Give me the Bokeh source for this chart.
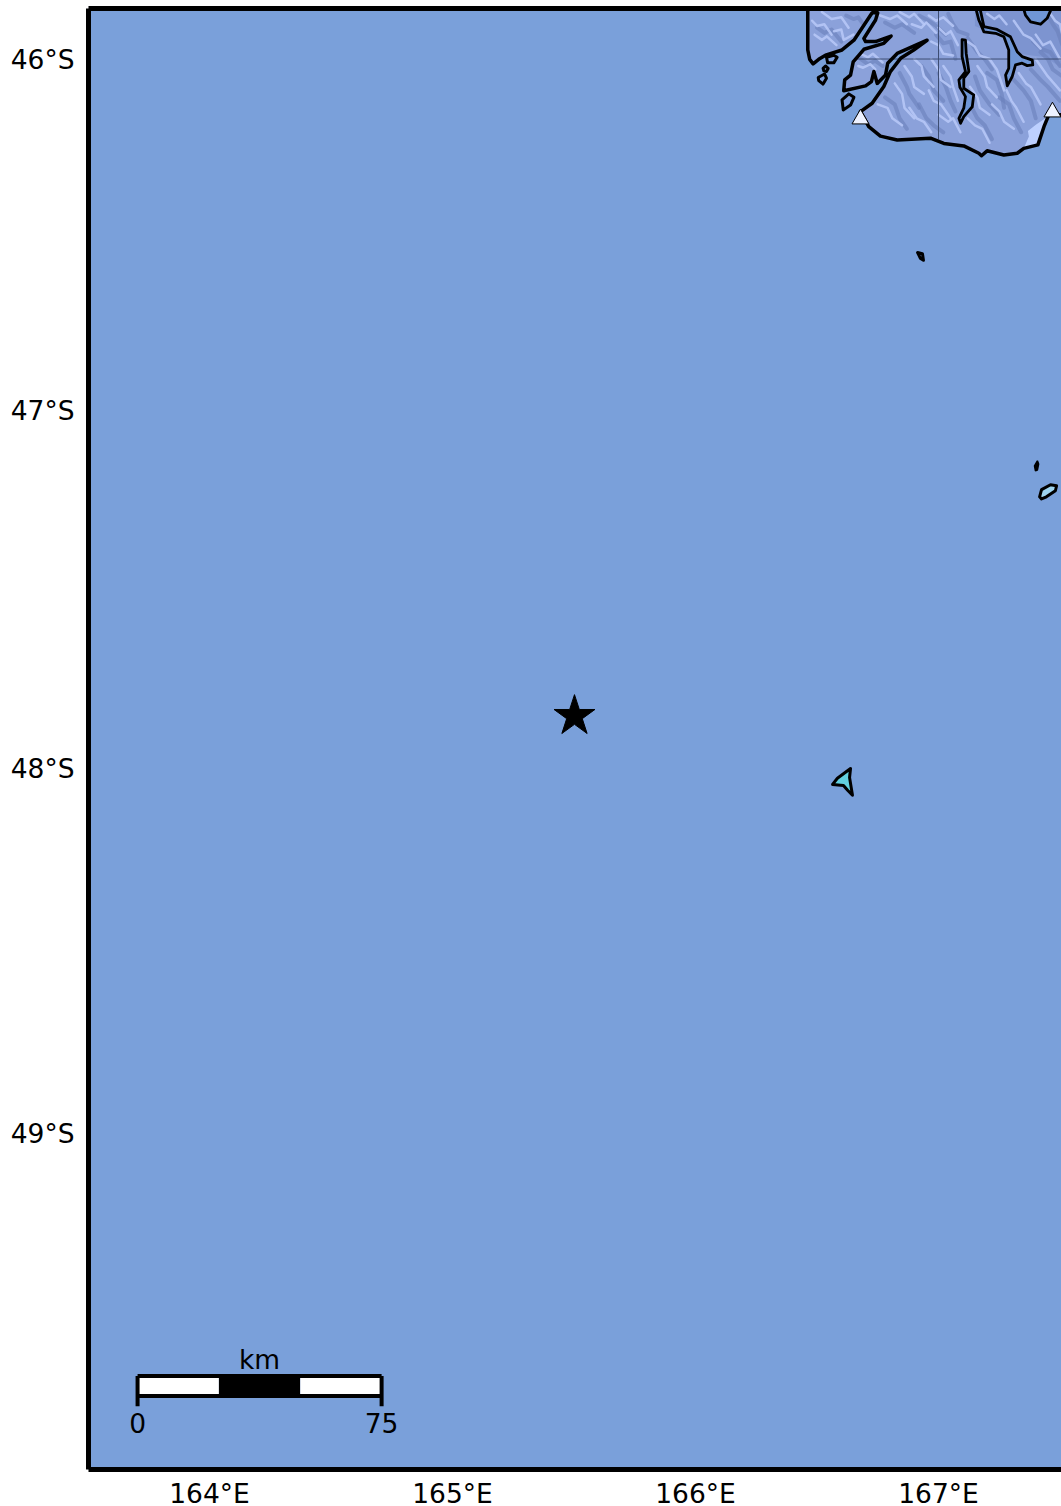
import math
from bokeh.plotting import figure
from bokeh.models import Range1d, FixedTicker, LinearAxis
from bokeh.core.properties import value
from bokeh.embed import file_html
from bokeh.resources import INLINE

# ---- data (degrees east, degrees south) ----
lon_ticks = [164, 165, 166, 167]
lat_ticks = [46, 47, 48, 49]

coast_lon = [166.462,166.462,166.470,166.484,166.507,166.535,166.603,166.652,166.693,166.727,166.750,166.741,166.693,166.700,166.741,166.805,166.775,166.693,166.649,166.638,166.614,166.610,166.700,166.724,166.734,166.748,166.782,166.791,166.830,166.953,166.898,166.844,166.802,166.775,166.727,166.679,166.713,166.761,166.830,166.967,167.022,167.104,167.166,167.177,167.200,167.269,167.324,167.351,167.409,167.434,167.454,167.516]
coast_lat = [45.850,45.974,46.001,46.014,46.001,45.989,45.974,45.946,45.903,45.867,45.867,45.888,45.941,45.950,45.950,45.934,45.955,45.972,46.008,46.046,46.060,46.091,46.077,46.065,46.036,46.070,46.046,46.012,45.984,45.946,45.974,45.998,46.036,46.079,46.127,46.151,46.194,46.221,46.232,46.227,46.242,46.249,46.270,46.277,46.263,46.275,46.270,46.256,46.246,46.194,46.160,46.160]
land_corner_lon, land_corner_lat = [167.516], [45.850]

lake_te_lon = [167.152,167.166,167.187,167.235,167.269,167.289,167.289,167.276,167.283,167.303,167.317,167.344,167.365,167.388,167.386,167.344,167.324,167.296,167.241,167.187,167.173,167.170]
lake_te_lat = [45.850,45.888,45.922,45.926,45.936,45.974,46.027,46.046,46.077,46.051,46.017,46.012,46.019,46.017,46.003,45.993,45.979,45.936,45.915,45.907,45.862,45.850]
lake_ma_lon = [167.097,167.111,167.114,167.125,167.104,167.104,167.145,167.139,167.104,167.091,167.084,167.104,167.111,167.088,167.084,167.111,167.097]
lake_ma_lat = [45.944,45.946,45.984,46.036,46.055,46.084,46.103,46.137,46.165,46.184,46.170,46.141,46.108,46.081,46.060,46.036,45.993]
lake_wa_lon = [167.348,167.358,167.379,167.420,167.447,167.468]
lake_wa_lat = [45.850,45.874,45.893,45.900,45.883,45.850]

islet_a_lon = [166.603,166.631,166.652,166.638,166.608]
islet_a_lat = [46.117,46.100,46.110,46.132,46.146]
islet_b_lon = [166.539,166.569,166.583,166.569,166.544]
islet_b_lat = [45.995,45.989,45.995,46.011,46.011]
islet_c_lon = [166.525,166.535,166.546,166.539,166.528]
islet_c_lat = [46.027,46.020,46.027,46.036,46.034]
islet_d_lon = [166.505,166.531,166.539,166.525,166.507]
islet_d_lat = [46.053,46.043,46.055,46.072,46.062]
islet_e_lon = [166.914,166.934,166.938,166.926]
islet_e_lat = [46.553,46.556,46.575,46.570]
islet_f_lon = [167.399,167.395,167.407,167.412,167.407]
islet_f_lat = [47.170,47.156,47.142,47.151,47.168]
snares_lon = [167.416,167.424,167.461,167.486,167.481,167.444,167.424]
snares_lat = [47.243,47.223,47.209,47.212,47.226,47.243,47.249]
auck_lon = [166.638,166.634,166.646,166.626,166.609,166.564,166.584]
auck_lat = [48.000,48.025,48.074,48.060,48.047,48.044,48.027]

plain_lon = [167.351,167.372,167.368,167.402,167.440,167.454,167.434,167.409,167.351]
plain_lat = [46.256,46.222,46.206,46.188,46.170,46.160,46.194,46.246,46.256]
shade_lon = [167.150,167.516,167.516,167.440,167.330,167.300,167.240,167.150]
shade_lat = [45.850,45.850,46.030,45.995,45.985,45.935,45.930,45.905]

ridge_light = [
 ([166.48,166.50,166.53,166.56],[45.89,45.905,45.90,45.93]), ([166.52,166.56,166.60,166.63],[45.865,45.885,45.88,45.91]),
 ([166.57,166.60,166.61,166.65],[45.92,45.915,45.945,45.93]), ([166.49,166.52,166.54,166.58],[45.93,45.945,45.935,45.96]),
 ([166.76,166.80,166.83,166.87],[45.875,45.885,45.875,45.90]), ([166.84,166.88,166.90,166.94],[45.865,45.88,45.87,45.90]),
 ([166.89,166.93,166.95,166.99],[45.90,45.91,45.895,45.925]), ([166.96,166.99,167.02,167.06],[45.875,45.89,45.88,45.905]),
 ([167.00,167.03,167.05,167.08],[45.91,45.93,45.92,45.96]), ([166.97,167.00,167.02,167.06],[45.95,45.96,45.985,45.99]),
 ([166.68,166.71,166.73,166.77],[45.985,45.995,45.985,46.01]), ([166.67,166.69,166.72,166.74],[46.02,46.025,46.015,46.03]),
 ([166.86,166.89,166.90,166.94],[46.02,46.05,46.08,46.10]), ([166.90,166.93,166.94,166.98],[46.00,46.02,46.05,46.08]),
 ([166.82,166.85,166.86,166.90],[46.07,46.10,46.14,46.17]), ([166.97,167.00,167.01,167.05],[46.00,46.03,46.06,46.08]),
 ([166.96,166.98,167.01,167.05],[46.09,46.12,46.13,46.17]), ([167.02,167.05,167.06,167.08],[46.02,46.05,46.08,46.12]),
 ([166.75,166.79,166.81,166.85],[46.13,46.14,46.17,46.19]), ([166.88,166.91,166.94,166.97],[46.14,46.17,46.18,46.21]),
 ([167.00,167.04,167.06,167.09],[46.16,46.18,46.17,46.21]), ([167.12,167.15,167.17,167.21],[45.95,45.965,45.99,46.00]),
 ([167.16,167.19,167.20,167.24],[46.02,46.05,46.08,46.11]), ([167.21,167.24,167.25,167.27],[46.00,46.03,46.05,46.09]),
 ([167.13,167.16,167.17,167.21],[46.08,46.11,46.14,46.16]), ([167.12,167.15,167.18,167.21],[46.17,46.19,46.20,46.24]),
 ([167.22,167.25,167.27,167.31],[46.13,46.15,46.18,46.20]), ([167.28,167.30,167.32,167.35],[46.09,46.12,46.14,46.18]),
 ([167.33,167.36,167.38,167.42],[46.04,46.07,46.08,46.13]), ([167.40,167.43,167.45,167.50],[46.00,46.03,46.05,46.09]),
 ([167.40,167.43,167.46,167.50],[45.93,45.96,45.95,46.00]), ([167.31,167.35,167.38,167.42],[45.89,45.93,45.94,45.97]),
 ([167.20,167.23,167.25,167.28],[45.87,45.885,45.875,45.90]), ([167.46,167.48,167.50,167.51],[45.87,45.89,45.90,45.93]),
]
ridge_dark = [
 ([166.50,166.53,166.56,166.60],[45.91,45.925,45.915,45.95]), ([166.62,166.65,166.67,166.69],[45.875,45.885,45.88,45.90]),
 ([166.78,166.82,166.85,166.90],[45.895,45.91,45.90,45.925]), ([166.92,166.96,166.99,167.03],[45.875,45.89,45.905,45.93]),
 ([167.04,167.06,167.08,167.12],[45.87,45.90,45.92,45.93]), ([166.99,167.02,167.05,167.07],[45.93,45.955,45.95,46.00]),
 ([166.84,166.87,166.88,166.92],[46.04,46.08,46.10,46.14]), ([166.93,166.96,166.98,167.02],[46.02,46.05,46.09,46.12]),
 ([166.78,166.82,166.84,166.87],[46.11,46.13,46.17,46.20]), ([167.00,167.03,167.05,167.07],[46.04,46.08,46.12,46.15]),
 ([166.92,166.95,166.98,167.02],[46.13,46.17,46.19,46.21]), ([167.12,167.16,167.19,167.22],[45.94,45.98,46.00,46.03]),
 ([167.15,167.17,167.21,167.25],[46.05,46.09,46.13,46.16]), ([167.20,167.24,167.26,167.27],[46.04,46.06,46.10,46.14]),
 ([167.13,167.16,167.19,167.22],[46.13,46.17,46.19,46.23]), ([167.25,167.29,167.31,167.34],[46.11,46.13,46.17,46.21]),
 ([167.31,167.35,167.38,167.40],[46.06,46.09,46.12,46.17]), ([167.38,167.42,167.45,167.50],[46.03,46.06,46.08,46.12]),
 ([167.42,167.45,167.47,167.51],[45.98,46.00,46.03,46.05]), ([167.39,167.42,167.46,167.50],[45.95,45.97,45.98,46.02]),
 ([166.68,166.71,166.74,166.77],[46.00,46.015,46.005,46.02]), ([167.45,167.47,167.49,167.51],[45.87,45.90,45.92,45.96]),
]

star_lon, star_lat = [165.502], [47.855]
peak_lon = [166.679, 167.469]
peak_lat = [46.172, 46.152]

scale_km = [0, 25, 50, 75]
scale_origin_lon = 163.704
lon_per_km = 0.01339
scale_lat_top, scale_lat_bot, scale_lat_tick = 49.653, 49.707, 49.734
scale_lat_label, scale_lat_unit = 49.780, 49.608

# ---- projection ----
def merc(lat):
    return -math.degrees(math.log(math.tan(math.pi / 4 + math.radians(abs(lat)) / 2)))
def M(lats):
    return [merc(v) for v in lats]

OCEAN = "#7aa0da"
FONT = "DejaVu Sans"
FS = "26.5px"
K = 241.8
y_top = merc(46) + (59 - 8.5) / K
y_bot = merc(46) - (1469 - 59) / K

p = figure(width=1061, height=1506, output_backend="svg", toolbar_location=None,
           x_range=Range1d(164 + (88 - 209) / 243, 164 + (1061 - 209) / 243),
           y_range=Range1d(y_bot, y_top),
           min_border_left=88, min_border_right=0, min_border_top=8, min_border_bottom=37,
           frame_width=973, frame_height=1461,
           background_fill_color=OCEAN, border_fill_color="white", outline_line_color=None)
p.grid.visible = False

top_axis = LinearAxis(ticker=FixedTicker(ticks=[]), major_label_text_font_size="0px", major_label_standoff=0)
p.add_layout(top_axis, "above")
xa = p.below[0]
ya = p.left[0]
for ax in (xa, ya, top_axis):
    ax.axis_line_color = "black"
    ax.axis_line_width = 5
    ax.major_tick_line_color = None
    ax.minor_tick_line_color = None
for ax in (xa, ya):
    ax.major_label_text_font = FONT
    ax.major_label_text_font_size = FS
    ax.major_label_text_color = "black"
xa.ticker = FixedTicker(ticks=lon_ticks)
xa.major_label_overrides = {t: f"{t}°E" for t in lon_ticks}
xa.major_label_standoff = 2
lat_pos = [round(merc(t), 5) for t in lat_ticks]
ya.ticker = FixedTicker(ticks=lat_pos)
ya.major_label_overrides = {v: f"{t}°S" for v, t in zip(lat_pos, lat_ticks)}
ya.major_label_standoff = 8

# land and relief
p.patch(coast_lon + land_corner_lon, M(coast_lat + land_corner_lat), fill_color="#8ba1da", line_color=None)
p.patch(shade_lon, M(shade_lat), fill_color="#647cbd", fill_alpha=0.35, line_color=None)
p.patch(plain_lon, M(plain_lat), fill_color="#bdd0ff", line_color=None)
p.multi_line([r[0] for r in ridge_dark], [M(r[1]) for r in ridge_dark],
             line_color="#6a80bb", line_width=4, line_alpha=0.6, line_join="round", line_cap="round")
p.multi_line([r[0] for r in ridge_light], [M(r[1]) for r in ridge_light],
             line_color="#b9c9f8", line_width=2.5, line_alpha=0.85, line_join="round", line_cap="round")
# graticule over land
p.line([167, 167], M([45.855, 46.230]), line_color="#3d4d72", line_width=1)
p.line([166.66, 167.516], M([46, 46]), line_color="#3d4d72", line_width=1)
# coast outline
p.line(coast_lon, M(coast_lat), line_color="black", line_width=3.5, line_join="round")
for lo, la in ((lake_te_lon, lake_te_lat), (lake_ma_lon, lake_ma_lat), (lake_wa_lon, lake_wa_lat)):
    p.patch(lo, M(la), fill_color="#6f96d6", line_color="black", line_width=2.8, line_join="round")
for lo, la in ((islet_a_lon, islet_a_lat), (islet_b_lon, islet_b_lat), (islet_c_lon, islet_c_lat),
               (islet_d_lon, islet_d_lat), (islet_e_lon, islet_e_lat)):
    p.patch(lo, M(la), fill_color="#7fa0de", line_color="black", line_width=3, line_join="round")
p.patch(islet_f_lon, M(islet_f_lat), fill_color="black", line_color="black", line_width=1.5)
p.patch(snares_lon, M(snares_lat), fill_color="#9fd4f0", line_color="black", line_width=3, line_join="round")
p.patch(auck_lon, M(auck_lat), fill_color="#62d0e0", line_color="black", line_width=3, line_join="round")

p.scatter(peak_lon, M(peak_lat), marker="triangle", size=17, fill_color="#eef2ff", line_color="black", line_width=1)
p.scatter(star_lon, M(star_lat), marker="star", size=43, fill_color="black", line_color="black")

# scale bar
edges = [scale_origin_lon + k * lon_per_km for k in scale_km]
y_t, y_b = merc(scale_lat_top), merc(scale_lat_bot)
p.quad(left=edges[:-1], right=edges[1:], top=[y_t] * 3, bottom=[y_b] * 3,
       fill_color=["white", "black", "white"], line_color=None)
p.line([edges[0], edges[-1]], [y_t, y_t], line_color="black", line_width=4)
p.line([edges[0], edges[-1]], [y_b, y_b], line_color="black", line_width=4)
for e in (edges[0], edges[-1]):
    p.line([e, e], [y_t, merc(scale_lat_tick)], line_color="black", line_width=4)
p.text([edges[0], edges[-1]], [merc(scale_lat_label)] * 2, text=["0", "75"], text_font=value(FONT),
       text_font_size=FS, text_align="center", text_baseline="middle", text_color="black")
p.text([(edges[0] + edges[-1]) / 2], [merc(scale_lat_unit)], text=["km"], text_font=value(FONT),
       text_font_size=FS, text_align="center", text_baseline="middle", text_color="black")

open("out.html", "w").write(file_html(p, INLINE))
